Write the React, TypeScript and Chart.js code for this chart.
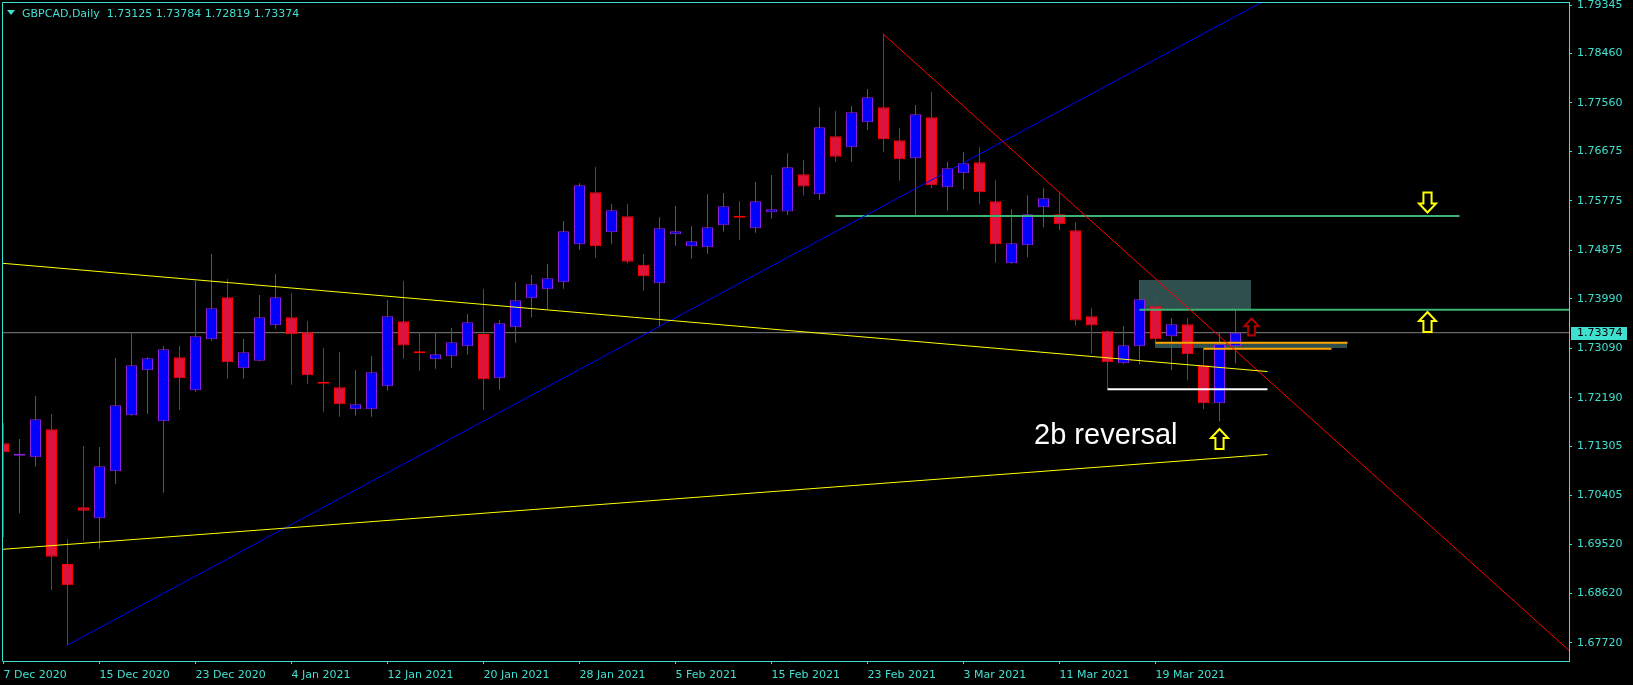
import React, { useEffect, useRef } from 'react';
import { Chart, registerables } from 'chart.js';

Chart.register(...registerables);

// ---------------- DATA ----------------
const SYMBOL = 'GBPCAD,Daily';

const DATES = [
  '2020-12-07', '2020-12-08', '2020-12-09', '2020-12-10', '2020-12-11', '2020-12-14', '2020-12-15', '2020-12-16', '2020-12-17', '2020-12-18',
  '2020-12-21', '2020-12-22', '2020-12-23', '2020-12-24', '2020-12-28', '2020-12-29', '2020-12-30', '2020-12-31',
  '2021-01-04', '2021-01-05', '2021-01-06', '2021-01-07', '2021-01-08', '2021-01-11', '2021-01-12', '2021-01-13', '2021-01-14', '2021-01-15',
  '2021-01-18', '2021-01-19', '2021-01-20', '2021-01-21', '2021-01-22', '2021-01-25', '2021-01-26', '2021-01-27', '2021-01-28', '2021-01-29',
  '2021-02-01', '2021-02-02', '2021-02-03', '2021-02-04', '2021-02-05', '2021-02-08', '2021-02-09', '2021-02-10', '2021-02-11', '2021-02-12',
  '2021-02-15', '2021-02-16', '2021-02-17', '2021-02-18', '2021-02-19', '2021-02-22', '2021-02-23', '2021-02-24', '2021-02-25', '2021-02-26',
  '2021-03-01', '2021-03-02', '2021-03-03', '2021-03-04', '2021-03-05', '2021-03-08', '2021-03-09', '2021-03-10', '2021-03-11', '2021-03-12',
  '2021-03-15', '2021-03-16', '2021-03-17', '2021-03-18', '2021-03-19', '2021-03-22', '2021-03-23', '2021-03-24', '2021-03-25', '2021-03-26',
];

const OPEN = [
  1.71359, 1.71131, 1.71103, 1.71614, 1.69159, 1.70192, 1.69992, 1.70848, 1.71869, 1.72689,
  1.71759, 1.72926, 1.72324, 1.73254, 1.74019, 1.72725, 1.72862, 1.73509, 1.73654, 1.73381,
  1.72470, 1.72379, 1.71978, 1.71978, 1.72397, 1.73582, 1.73035, 1.72889, 1.72944, 1.73126,
  1.73350, 1.72543, 1.73472, 1.74001, 1.74165, 1.74292, 1.74985, 1.75932, 1.75203, 1.75495,
  1.74611, 1.74274, 1.75167, 1.74948, 1.74930, 1.75331, 1.75495, 1.75276, 1.75568, 1.75582,
  1.76260, 1.75896, 1.76953, 1.76752, 1.77208, 1.77481, 1.76880, 1.76552, 1.77299, 1.76023,
  1.76278, 1.76479, 1.75768, 1.74638, 1.74966, 1.75659, 1.75531, 1.75240, 1.73673, 1.73399,
  1.72816, 1.73126, 1.73855, 1.73308, 1.73527, 1.72780, 1.72087, 1.73125,
];
const HIGH = [
  1.71723, 1.71437, 1.72220, 1.71892, 1.69609, 1.71309, 1.71291, 1.72913, 1.73374, 1.72926,
  1.73131, 1.73131, 1.74316, 1.74808, 1.74352, 1.73259, 1.74061, 1.74443, 1.74097, 1.73587,
  1.73095, 1.73022, 1.72694, 1.72949, 1.73970, 1.74316, 1.73387, 1.73387, 1.73459, 1.73715,
  1.74170, 1.73605, 1.74298, 1.74425, 1.74626, 1.75409, 1.76096, 1.76393, 1.75719, 1.75719,
  1.74808, 1.75477, 1.75683, 1.75313, 1.75896, 1.75919, 1.75768, 1.76120, 1.76247, 1.76643,
  1.76521, 1.77481, 1.77414, 1.77505, 1.77814, 1.78811, 1.77109, 1.77523, 1.77760, 1.76490,
  1.76661, 1.76752, 1.76151, 1.75622, 1.75877, 1.76005, 1.75932, 1.75385, 1.73818, 1.73418,
  1.73490, 1.74330, 1.74019, 1.73636, 1.73636, 1.73090, 1.73363, 1.73784,
];
const LOW = [
  1.69646, 1.70083, 1.70932, 1.68685, 1.67683, 1.69584, 1.69438, 1.70617, 1.71860, 1.71898,
  1.70458, 1.71965, 1.72299, 1.73228, 1.72536, 1.72536, 1.72855, 1.73447, 1.72426, 1.72445,
  1.71934, 1.71843, 1.71861, 1.71843, 1.72317, 1.72900, 1.72681, 1.72718, 1.72736, 1.72973,
  1.71971, 1.72335, 1.73192, 1.73656, 1.73800, 1.74176, 1.74886, 1.74740, 1.74996, 1.74638,
  1.74139, 1.73472, 1.74959, 1.74722, 1.74813, 1.75214, 1.75068, 1.75196, 1.75451, 1.75519,
  1.75874, 1.75792, 1.76490, 1.76490, 1.77067, 1.76672, 1.76144, 1.75488, 1.76005, 1.75597,
  1.75987, 1.75713, 1.74649, 1.74630, 1.74748, 1.75294, 1.75240, 1.73505, 1.72995, 1.72342,
  1.72803, 1.72798, 1.73199, 1.72689, 1.72506, 1.71978, 1.71759, 1.72819,
];
const CLOSE = [
  1.71195, 1.71167, 1.71796, 1.69292, 1.68771, 1.70130, 1.70939, 1.72051, 1.72780, 1.72907,
  1.73071, 1.72543, 1.73308, 1.73818, 1.72834, 1.73017, 1.73654, 1.74019, 1.73345, 1.72598,
  1.72445, 1.72069, 1.72069, 1.72652, 1.73673, 1.73140, 1.72998, 1.72980, 1.73199, 1.73563,
  1.72525, 1.73545, 1.73964, 1.74256, 1.74365, 1.75221, 1.76060, 1.74948, 1.75604, 1.74666,
  1.74402, 1.75276, 1.75221, 1.75039, 1.75294, 1.75677, 1.75469, 1.75768, 1.75622, 1.76388,
  1.76038, 1.77117, 1.76581, 1.77390, 1.77663, 1.76898, 1.76533, 1.77353, 1.76060, 1.76369,
  1.76461, 1.75932, 1.74985, 1.75003, 1.75531, 1.75823, 1.75349, 1.73596, 1.73505, 1.72834,
  1.73144, 1.73982, 1.73254, 1.73527, 1.72980, 1.72087, 1.73162, 1.73374,
];

const X_TICK_INDEX = [0, 6, 12, 18, 24, 30, 36, 42, 48, 54, 60, 66, 72];
const X_TICK_LABELS = [
  '7 Dec 2020', '15 Dec 2020', '23 Dec 2020', '4 Jan 2021', '12 Jan 2021', '20 Jan 2021', '28 Jan 2021',
  '5 Feb 2021', '15 Feb 2021', '23 Feb 2021', '3 Mar 2021', '11 Mar 2021', '19 Mar 2021',
];
const Y_TICKS = [
  1.79345, 1.7846, 1.7756, 1.76675, 1.75775, 1.74875, 1.7399, 1.7309, 1.7219, 1.71305, 1.70405, 1.6952, 1.6862, 1.6772,
];
const Y_MIN = 1.673918;
const Y_MAX = 1.793997;
const X_MIN = -0.03125;
const X_MAX = 97.84375;

// drawn objects: (bar index, price)
const YELLOW_UPPER = [{ x: -1, y: 1.74662 }, { x: 79, y: 1.72666 }];
const YELLOW_LOWER = [{ x: -1, y: 1.69406 }, { x: 79, y: 1.71155 }];
const BLUE_TREND = [{ x: 4, y: 1.67683 }, { x: 80, y: 1.79609 }];
const RED_TREND = [{ x: 55, y: 1.78811 }, { x: 100, y: 1.6702 }];
const GREEN_UPPER = [{ x: 52, y: 1.755 }, { x: 91, y: 1.755 }];
const GREEN_LOWER = [{ x: 71, y: 1.73793 }, { x: 100, y: 1.73793 }];
const WHITE_LEVEL = [{ x: 69, y: 1.72342 }, { x: 79, y: 1.72342 }];
const ORANGE_UPPER = [{ x: 72, y: 1.73192 }, { x: 84, y: 1.73192 }];
const ORANGE_LOWER = [{ x: 75, y: 1.73082 }, { x: 83, y: 1.73082 }];
const ZONE_UPPER = { x0: 71, x1: 78, y0: 1.74334, y1: 1.738 };
const ZONE_LOWER = { x0: 72, x1: 84, y0: 1.73205, y1: 1.7309 };
const ARROW_X = [89, 89, 78, 76];
const ARROW_Y = [1.75546, 1.73769, 1.73651, 1.71637];
const ARROW_DIR = ['down', 'up', 'up', 'up'];
const NOTE_TEXT = '2b reversal';
const NOTE_X = 64.41;
const NOTE_Y = 1.7134;

// ---------------- STYLE ----------------
const TURQ = '#40E0D0';
const BULL_FILL = '#0000FF';
const BULL_LINE = '#9020E0';
const BEAR_FILL = '#DC143C';
const BEAR_LINE = '#FF0000';
const ARROW_COLORS = ['#FFFF00', '#FFFF00', '#B00000', '#FFFF00'];
const ARROW_SIZES = [[19, 22], [19, 22], [16, 19], [19, 22]];
const AXIS_FONT = '"DejaVu Sans", sans-serif';

const isBull = (i: number) => CLOSE[i] >= OPEN[i];

function lineSet(data: { x: number; y: number }[], color: string, width: number, order = 0) {
  return {
    type: 'line' as const,
    data,
    borderColor: color,
    backgroundColor: color,
    borderWidth: width,
    pointRadius: 0,
    pointHoverRadius: 0,
    fill: false,
    tension: 0,
    order,
    clip: 0,
  };
}

function drawArrow(ctx: CanvasRenderingContext2D, cx: number, tipY: number, dir: string, color: string, W: number, H: number) {
  const s = dir === 'up' ? 1 : -1;
  const w = W - 2;
  const h = H - 2;
  const t = tipY + s * 1;
  const hh = h * 0.45;
  const sw = w * 0.24;
  ctx.beginPath();
  ctx.moveTo(cx, t);
  ctx.lineTo(cx + w / 2, t + s * hh);
  ctx.lineTo(cx + sw, t + s * hh);
  ctx.lineTo(cx + sw, t + s * h);
  ctx.lineTo(cx - sw, t + s * h);
  ctx.lineTo(cx - sw, t + s * hh);
  ctx.lineTo(cx - w / 2, t + s * hh);
  ctx.closePath();
  ctx.fillStyle = '#000';
  ctx.fill();
  ctx.strokeStyle = color;
  ctx.lineWidth = 2;
  ctx.lineJoin = 'miter';
  ctx.miterLimit = 3;
  ctx.stroke();
}

const mt4Plugin = {
  id: 'mt4',
  beforeDraw(chart: any) {
    const { ctx, width, height } = chart;
    ctx.save();
    ctx.fillStyle = '#000';
    ctx.fillRect(0, 0, width, height);
    ctx.restore();
  },
  beforeDatasetsDraw(chart: any) {
    const { ctx, chartArea: a, scales } = chart;
    const x = scales.x;
    const y = scales.y;
    ctx.save();
    ctx.beginPath();
    ctx.rect(a.left, a.top, a.right - a.left, a.bottom - a.top);
    ctx.clip();
    ctx.fillStyle = '#2F4F4F';
    for (const z of [ZONE_UPPER, ZONE_LOWER]) {
      const x0 = Math.floor(x.getPixelForValue(z.x0));
      const x1 = Math.floor(x.getPixelForValue(z.x1));
      const y0 = Math.round(y.getPixelForValue(z.y0));
      const y1 = Math.round(y.getPixelForValue(z.y1));
      ctx.fillRect(x0, y0, x1 - x0, y1 - y0);
    }
    ctx.restore();
  },
  afterDatasetsDraw(chart: any) {
    const { ctx, chartArea: a, scales } = chart;
    const x = scales.x;
    const y = scales.y;
    ctx.save();
    ctx.beginPath();
    ctx.rect(a.left, a.top, a.right - a.left, a.bottom - a.top);
    ctx.clip();
    ARROW_X.forEach((ax, k) => {
      const [W, H] = ARROW_SIZES[k];
      drawArrow(ctx, x.getPixelForValue(ax), y.getPixelForValue(ARROW_Y[k]), ARROW_DIR[k], ARROW_COLORS[k], W, H);
    });
    ctx.fillStyle = '#FFFFFF';
    ctx.font = '29px "Liberation Sans", Arial, sans-serif';
    ctx.textAlign = 'left';
    ctx.textBaseline = 'alphabetic';
    ctx.fillText(NOTE_TEXT, x.getPixelForValue(NOTE_X), y.getPixelForValue(NOTE_Y));
    ctx.restore();
  },
  afterDraw(chart: any) {
    const { ctx, chartArea: a, scales } = chart;
    const y = scales.y;
    const last = CLOSE.length - 1;
    ctx.save();
    // window border (left / top)
    ctx.strokeStyle = TURQ;
    ctx.lineWidth = 1;
    ctx.beginPath();
    ctx.moveTo(a.left - 0.5, a.bottom + 0.5);
    ctx.lineTo(a.left - 0.5, a.top + 0.5);
    ctx.lineTo(a.right + 0.5, a.top + 0.5);
    ctx.stroke();
    // title
    ctx.fillStyle = TURQ;
    ctx.beginPath();
    ctx.moveTo(7, 10);
    ctx.lineTo(15, 10);
    ctx.lineTo(11, 15);
    ctx.closePath();
    ctx.fill();
    ctx.font = '11px ' + AXIS_FONT;
    ctx.textAlign = 'left';
    ctx.textBaseline = 'alphabetic';
    const title = `${SYMBOL}  ${OPEN[last].toFixed(5)} ${HIGH[last].toFixed(5)} ${LOW[last].toFixed(5)} ${CLOSE[last].toFixed(5)}`;
    ctx.fillText(title, 22, 17);
    // current price label
    const py = Math.round(y.getPixelForValue(CLOSE[last]));
    ctx.fillStyle = TURQ;
    ctx.fillRect(a.right + 2, py - 6, 56, 13);
    ctx.fillStyle = '#000';
    ctx.textBaseline = 'middle';
    ctx.fillText(CLOSE[last].toFixed(5), a.right + 8, py + 0.5);
    ctx.restore();
  },
};

export default function App() {
  const ref = useRef<HTMLCanvasElement>(null);

  useEffect(() => {
    document.body.style.margin = '0';
    document.body.style.background = '#000';
    const canvas = ref.current;
    if (!canvas) return;

    const last = CLOSE.length - 1;
    const bodies = OPEN.map((o, i) => ({ x: i, y: [o, CLOSE[i]] }));
    const wicks = LOW.map((l, i) => ({ x: i, y: [l, HIGH[i]] }));
    const priceLine = [{ x: -1, y: CLOSE[last] }, { x: 100, y: CLOSE[last] }];

    const chart = new Chart(canvas, {
      type: 'bar',
      data: {
        datasets: [
          lineSet(YELLOW_UPPER, '#FFFF00', 1),
          lineSet(YELLOW_LOWER, '#FFFF00', 1),
          lineSet(BLUE_TREND, '#0000FF', 1),
          lineSet(RED_TREND, '#FF0000', 1),
          lineSet(GREEN_UPPER, '#3CB371', 2),
          lineSet(GREEN_LOWER, '#3CB371', 2),
          lineSet(WHITE_LEVEL, '#FFFFFF', 2),
          lineSet(ORANGE_UPPER, '#FFA500', 2),
          lineSet(ORANGE_LOWER, '#FFA500', 2),
          {
            type: 'bar',
            data: bodies as any,
            backgroundColor: OPEN.map((_, i) => (isBull(i) ? BULL_FILL : BEAR_FILL)),
            borderColor: OPEN.map((_, i) => (isBull(i) ? BULL_LINE : BEAR_LINE)),
            borderWidth: 1,
            borderSkipped: false,
            barThickness: 11,
            grouped: false,
            minBarLength: 2,
            inflateAmount: 0,
            order: 1,
            clip: 0,
          } as any,
          {
            type: 'bar',
            data: wicks as any,
            backgroundColor: OPEN.map((_, i) => (isBull(i) ? BULL_LINE : BEAR_LINE)),
            borderWidth: 0,
            barThickness: 1,
            grouped: false,
            minBarLength: 1,
            inflateAmount: 0,
            order: 2,
            clip: 0,
          } as any,
          lineSet(priceLine, '#808080', 1, 3),
        ],
      },
      options: {
        responsive: false,
        animation: false,
        devicePixelRatio: 1,
        events: [],
        layout: { padding: { left: 3, top: 2, right: 0, bottom: 0 } },
        plugins: { legend: { display: false }, tooltip: { enabled: false }, title: { display: false } },
        scales: {
          x: {
            type: 'linear',
            position: 'bottom',
            min: X_MIN,
            max: X_MAX,
            bounds: 'data',
            offset: false,
            grid: { display: true, drawOnChartArea: false, drawTicks: true, tickLength: 3, color: TURQ, offset: false },
            border: { display: true, color: TURQ, width: 1 },
            ticks: {
              autoSkip: false,
              maxRotation: 0,
              minRotation: 0,
              align: 'start',
              padding: 5,
              color: TURQ,
              font: { family: AXIS_FONT, size: 11 },
              callback: (v: any) => {
                const k = X_TICK_INDEX.indexOf(Number(v));
                return k >= 0 ? X_TICK_LABELS[k] : '';
              },
            },
            afterBuildTicks: (s: any) => {
              s.ticks = X_TICK_INDEX.map((v) => ({ value: v }));
            },
            afterFit: (s: any) => {
              s.height = 24;
              s.paddingLeft = 0;
              s.paddingRight = 0;
            },
          },
          y: {
            type: 'linear',
            position: 'right',
            min: Y_MIN,
            max: Y_MAX,
            bounds: 'data',
            beginAtZero: false,
            grid: { display: true, drawOnChartArea: false, drawTicks: true, tickLength: 3, color: TURQ },
            border: { display: true, color: TURQ, width: 1 },
            ticks: {
              autoSkip: false,
              padding: 5,
              color: TURQ,
              font: { family: AXIS_FONT, size: 11 },
              callback: (v: any) => Number(v).toFixed(5),
            },
            afterBuildTicks: (s: any) => {
              s.ticks = Y_TICKS.map((v) => ({ value: v }));
            },
            afterFit: (s: any) => {
              s.width = 64;
              s.paddingTop = 0;
              s.paddingBottom = 0;
            },
          },
        },
      } as any,
      plugins: [mt4Plugin],
    });

    return () => chart.destroy();
  }, []);

  return <canvas ref={ref} width={1633} height={685} style={{ display: 'block', width: 1633, height: 685 }} />;
}
